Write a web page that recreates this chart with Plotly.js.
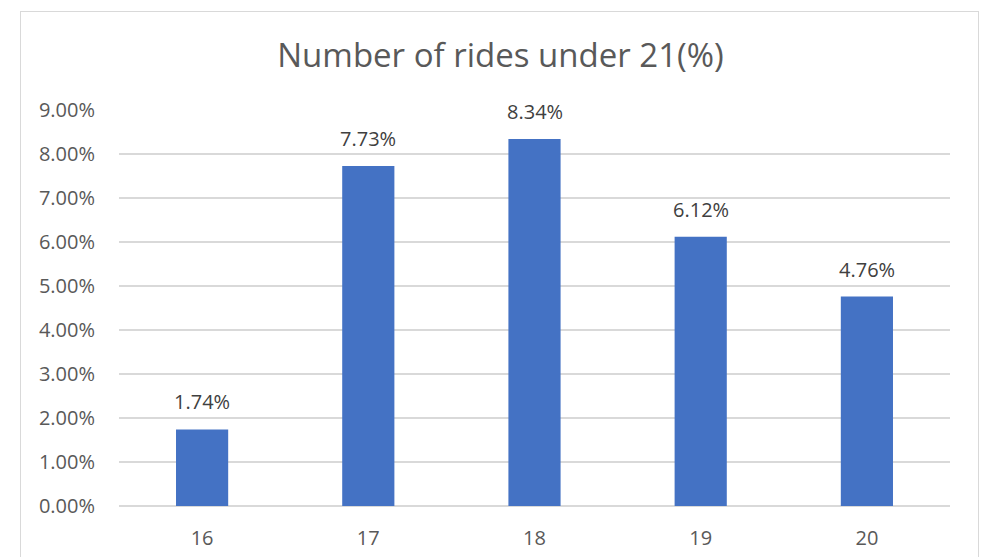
<!DOCTYPE html>
<html>
<head>
<meta charset="utf-8">
<script src="https://cdn.plot.ly/plotly-3.0.1.min.js"></script>
<style>
html,body{margin:0;padding:0;background:#fff;}
#wrap{position:relative;width:982px;height:557px;overflow:hidden;}
#chart{position:absolute;left:0;top:0;width:982px;height:557px;}
#frame{position:absolute;left:20px;top:11px;width:957px;height:600px;border:1.5px solid #d9d9d9;pointer-events:none;}
</style>
</head>
<body>
<div id="wrap"><div id="chart"></div><div id="frame"></div></div>
<script>
const categories = ['16', '17', '18', '19', '20'];
const values = [1.74, 7.73, 8.34, 6.12, 4.76];
const tickVals = [0, 1, 2, 3, 4, 5, 6, 7, 8, 9];
const tickText = ['0.00%', '1.00%', '2.00%', '3.00%', '4.00%', '5.00%', '6.00%', '7.00%', '8.00%', '9.00%'];
const chartTitle = 'Number of rides under 21(%)';

const FONT = '"Open Sans", "Noto Sans", sans-serif';

const trace = {
  type: 'bar',
  x: categories,
  y: values,
  marker: {color: '#4472C4', line: {width: 0}},
  hoverinfo: 'skip'
};

const annotations = categories.map((c, i) => ({
  x: i, y: values[i], xref: 'x', yref: 'y',
  text: values[i].toFixed(2) + '%',
  showarrow: false, yanchor: 'bottom', yshift: 12,
  font: {family: FONT, size: 20, color: '#404040'}
}));

const layout = {
  width: 982, height: 557,
  margin: {l: 119, r: 32, t: 109.5, b: 51, pad: 0},
  paper_bgcolor: 'rgba(0,0,0,0)',
  plot_bgcolor: 'rgba(0,0,0,0)',
  bargap: 0.686,
  showlegend: false,
  title: {
    text: chartTitle,
    font: {family: FONT, size: 33, color: '#595959'},
    x: 0.5097, xref: 'container', xanchor: 'center',
    y: 0.9, yref: 'container', yanchor: 'middle'
  },
  xaxis: {
    type: 'category',
    range: [-0.5, categories.length - 0.5],
    showgrid: false, showline: false, zeroline: false,
    ticks: 'outside', ticklen: 14, tickcolor: 'rgba(0,0,0,0)',
    tickfont: {family: FONT, size: 20, color: '#595959'},
    fixedrange: true
  },
  yaxis: {
    range: [0, 9],
    tickvals: tickVals, ticktext: tickText,
    showgrid: true, gridcolor: '#d9d9d9', gridwidth: 1.3,
    zeroline: true, zerolinecolor: '#d9d9d9', zerolinewidth: 1.3,
    showline: false,
    ticks: 'outside', ticklen: 19, tickcolor: 'rgba(0,0,0,0)',
    tickfont: {family: FONT, size: 20, color: '#595959'},
    fixedrange: true
  },
  annotations: annotations
};

Plotly.newPlot('chart', [trace], layout, {displayModeBar: false, staticPlot: true});
</script>
</body>
</html>
